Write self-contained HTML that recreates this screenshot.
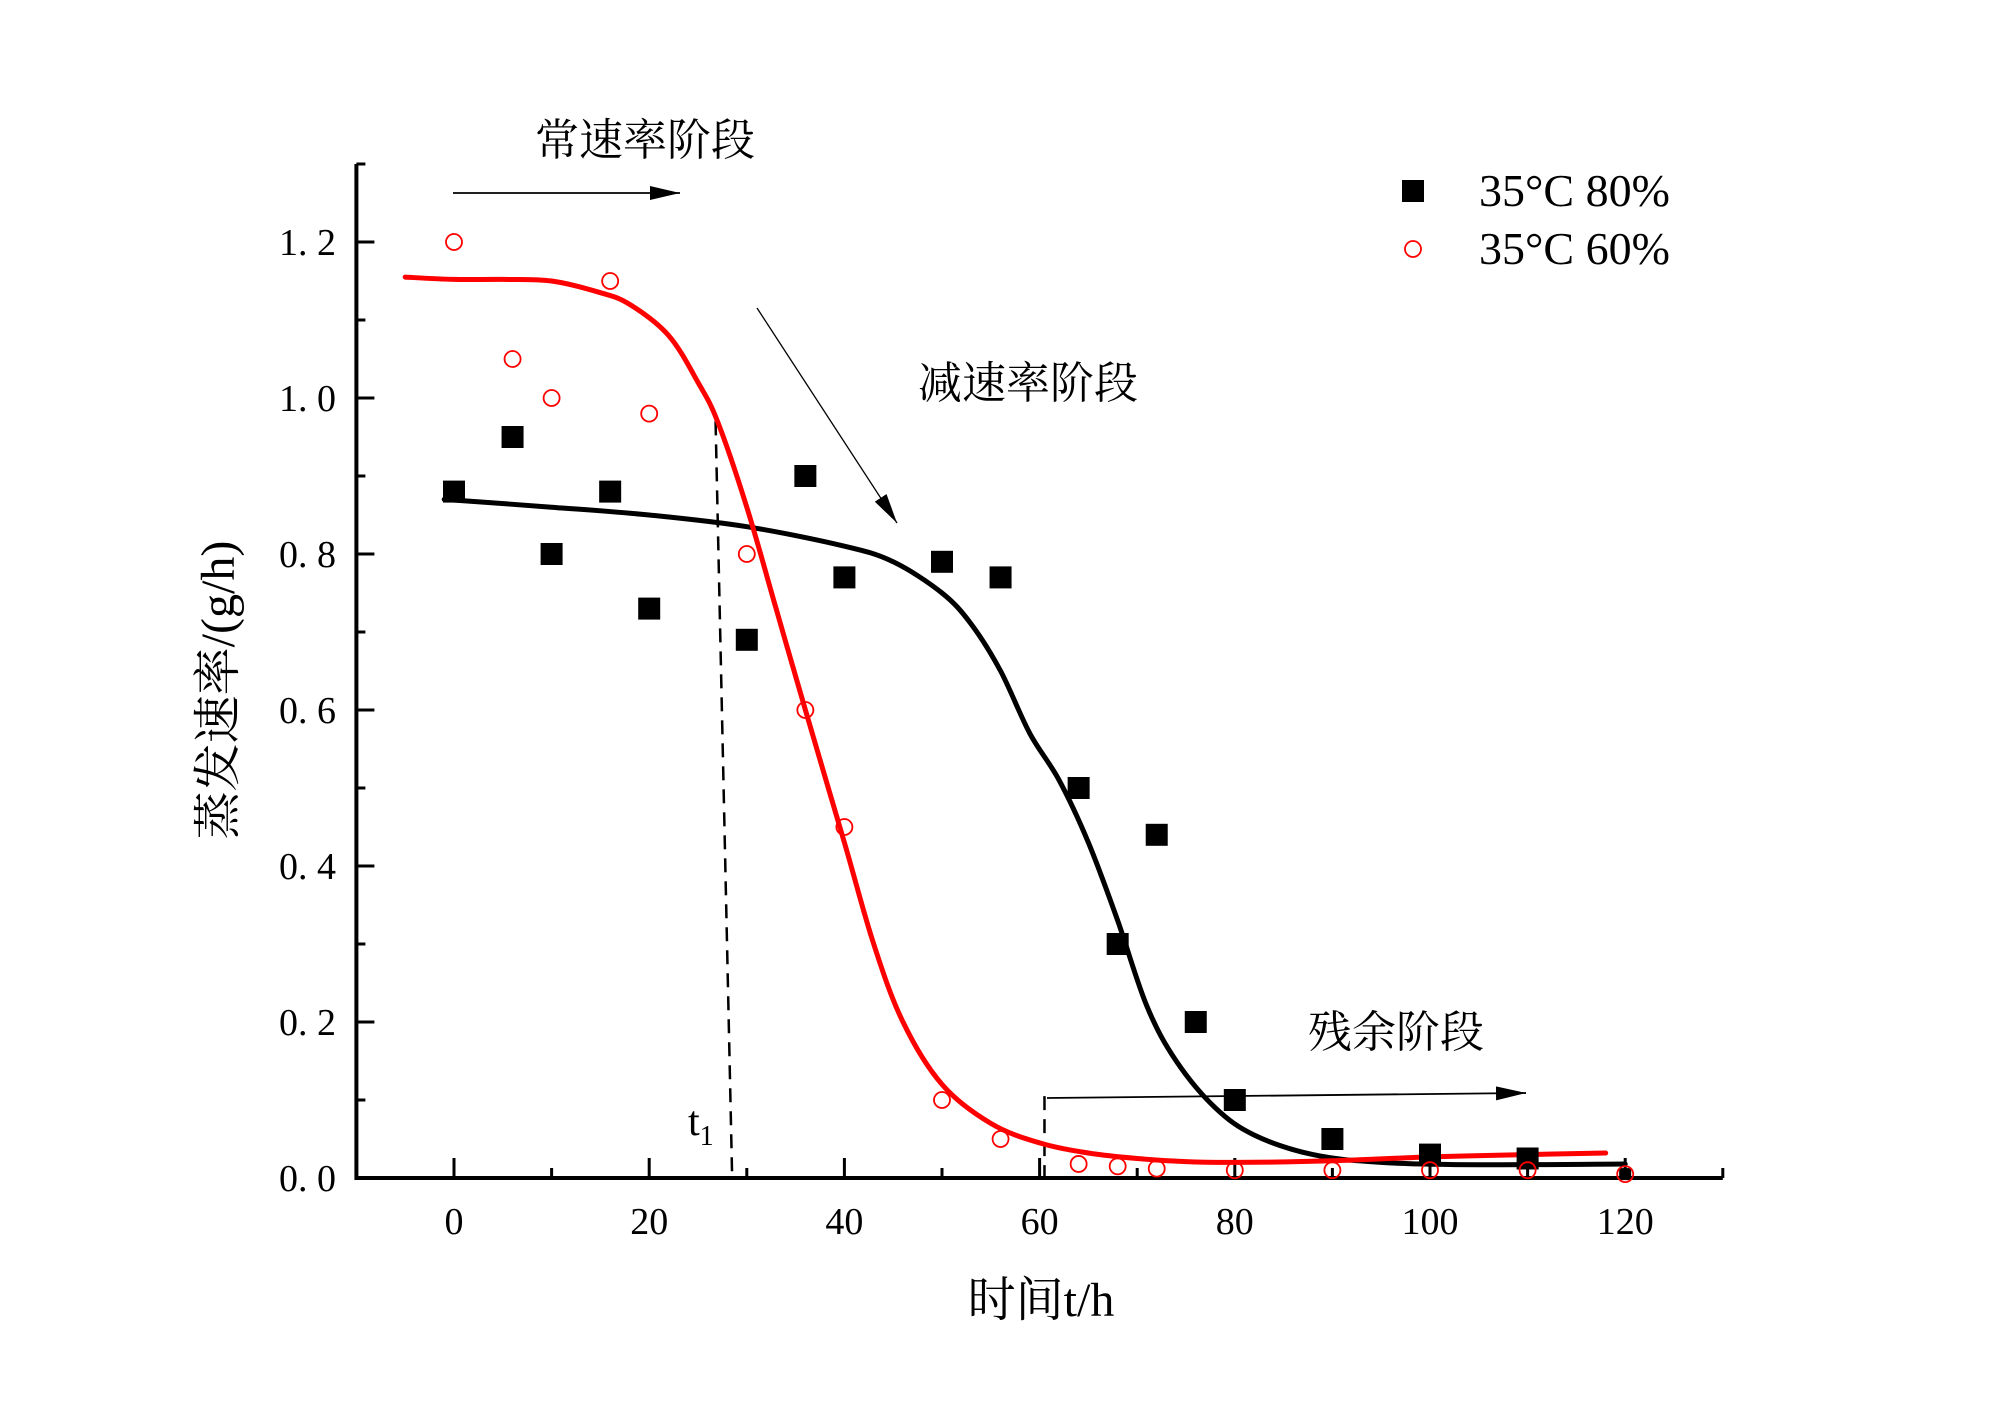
<!DOCTYPE html>
<html><head><meta charset="utf-8"><style>
body{margin:0;background:#fff}
svg{display:block}
text{font-family:"Liberation Serif","Noto Serif CJK SC",serif;fill:#000}
</style></head><body>
<svg id="chart" width="2000" height="1414" viewBox="0 0 2000 1414" xmlns="http://www.w3.org/2000/svg">
<g id="plot"></g>
</svg>
<script>
const xTicks=[0,20,40,60,80,100,120];
const yTicks=[0.0,0.2,0.4,0.6,0.8,1.0,1.2];
const yTickLabels=["0. 0","0. 2","0. 4","0. 6","0. 8","1. 0","1. 2"];
const blackX=[0,6,10,16,20,30,36,40,50,56,64,68,72,76,80,90,100,110,120];
const blackY=[0.88,0.95,0.8,0.88,0.73,0.69,0.9,0.77,0.79,0.77,0.5,0.3,0.44,0.2,0.1,0.05,0.03,0.025,0.005];
const redX=[0,6,10,16,20,30,36,40,50,56,64,68,72,80,90,100,110,120];
const redY=[1.2,1.05,1.0,1.15,0.98,0.8,0.6,0.45,0.1,0.05,0.018,0.015,0.012,0.01,0.01,0.01,0.01,0.005];
const redFitX=[-5,0,5,10,15,18,22,25,27,30,33,36,40,43,46,50,55,60,65,70,75,80,90,100,110,118];
const redFitY=[1.155,1.152,1.152,1.15,1.135,1.12,1.08,1.02,0.97,0.86,0.73,0.6,0.43,0.3,0.2,0.12,0.07,0.045,0.032,0.025,0.021,0.02,0.022,0.027,0.03,0.032];
const blackFitX=[-1,10,20,30,40,45,50,53,56,59,62,65,68,71,74,78,82,88,95,105,120];
const blackFitY=[0.87,0.86,0.85,0.835,0.81,0.79,0.75,0.71,0.65,0.57,0.51,0.43,0.33,0.22,0.15,0.09,0.055,0.03,0.02,0.017,0.018];
const X=v=>454+v*9.76, Y=v=>1178-v*780;
const NS="http://www.w3.org/2000/svg", g=document.getElementById('plot');
function mk(t,a,p){const e=document.createElementNS(NS,t);for(const k in a)e.setAttribute(k,a[k]);(p||g).appendChild(e);return e;}
let ax=mk('line',{x1:X(-10),y1:Y(0),x2:X(130),y2:Y(0),stroke:'#000','stroke-width':4});

let ay=mk('line',{x1:X(-10),y1:Y(0)+2,x2:X(-10),y2:Y(1.3),stroke:'#000','stroke-width':4});

for(let v=-10;v<=130;v+=10){const maj=(v%20===0);const t=mk('line',{x1:X(v),y1:Y(0),x2:X(v),y2:Y(0)-(maj?20:10),stroke:'#000','stroke-width':3});
}
for(let i=0;i<=13;i++){const v=i/10;const maj=(i%2===0)&&i<13;const t=mk('line',{x1:X(-10),y1:Y(v),x2:X(-10)+(maj?18:9),y2:Y(v),stroke:'#000','stroke-width':3});
}
xTicks.forEach(v=>{const t=mk('text',{x:X(v),y:1234,'text-anchor':'middle','font-size':38});t.textContent=String(v);
});
yTicks.forEach((v,i)=>{const t=mk('text',{x:336,y:Y(v)+13,'text-anchor':'end','font-size':38});t.textContent=yTickLabels[i];
});
let d1=mk('line',{x1:X(26.8),y1:Y(0.97),x2:X(28.5),y2:Y(0),stroke:'#000','stroke-width':2.5,'stroke-dasharray':'14,9'});

let d2=mk('line',{x1:X(60.5),y1:Y(0.105),x2:X(60.5),y2:Y(0),stroke:'#000','stroke-width':2.5,'stroke-dasharray':'14,9'});

function path(xs,ys){
  const p=xs.map((x,i)=>[X(x),Y(ys[i])]);
  let d='M'+p[0][0].toFixed(1)+','+p[0][1].toFixed(1);
  for(let i=0;i<p.length-1;i++){
    const p0=p[i-1]||p[i],p1=p[i],p2=p[i+1],p3=p[i+2]||p2;
    const c1=[p1[0]+(p2[0]-p0[0])/6,p1[1]+(p2[1]-p0[1])/6];
    const c2=[p2[0]-(p3[0]-p1[0])/6,p2[1]-(p3[1]-p1[1])/6];
    d+=' C'+c1[0].toFixed(1)+','+c1[1].toFixed(1)+' '+c2[0].toFixed(1)+','+c2[1].toFixed(1)+' '+p2[0].toFixed(1)+','+p2[1].toFixed(1);
  }
  return d;
}
let bf=mk('path',{d:path(blackFitX,blackFitY),fill:'none',stroke:'#000','stroke-width':5,'stroke-linejoin':'round','stroke-linecap':'round'});

let rf=mk('path',{d:path(redFitX,redFitY),fill:'none',stroke:'#f00','stroke-width':5,'stroke-linejoin':'round','stroke-linecap':'round'});

blackX.forEach((x,i)=>{const s=(x>=120)?12:22;const r=mk('rect',{x:X(x)-s/2,y:Y(blackY[i])-s/2,width:s,height:s,fill:'#000'});
});
redX.forEach((x,i)=>{const c=mk('circle',{cx:X(x),cy:Y(redY[i]),r:8,fill:'none',stroke:'#f00','stroke-width':1.8});
});
</script>
<svg style="position:absolute;left:0;top:0" width="2000" height="1414">
<defs><marker id="m" viewBox="0 0 30 14" refX="30" refY="7" markerWidth="30" markerHeight="14" markerUnits="userSpaceOnUse" orient="auto"><path d="M0,0 L30,7 L0,14 Z" fill="#000"/></marker></defs>
<line x1="453" y1="193" x2="680" y2="193" stroke="#000" stroke-width="1.8" marker-end="url(#m)"/>
<line x1="757" y1="308" x2="897" y2="523" stroke="#000" stroke-width="1.3" marker-end="url(#m)"/>
<line x1="1047" y1="1098" x2="1526" y2="1093" stroke="#000" stroke-width="1.8" marker-end="url(#m)"/>
<text x="645" y="155" text-anchor="middle" font-size="44">常速率阶段</text>
<text x="1028" y="398" text-anchor="middle" font-size="44">减速率阶段</text>
<text x="1396" y="1047" text-anchor="middle" font-size="44">残余阶段</text>
<text x="688" y="1135" font-size="42">t<tspan font-size="28" dy="10">1</tspan></text>
<text x="1041" y="1316" text-anchor="middle" font-size="48">时间t/h</text>
<text x="0" y="0" transform="translate(234,690) rotate(-90)" text-anchor="middle" font-size="48">蒸发速率/(g/h)</text>
<rect x="1402" y="180" width="22" height="22" fill="#000"/>
<text x="1479" y="206" font-size="46">35°C 80%</text>
<circle cx="1413" cy="249" r="8" fill="none" stroke="#f00" stroke-width="1.8"/>
<text x="1479" y="264" font-size="46">35°C 60%</text>
</svg>
</body></html>
